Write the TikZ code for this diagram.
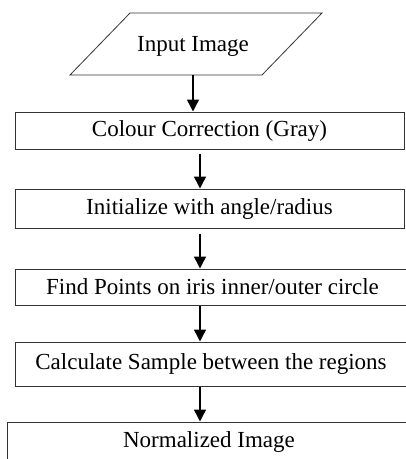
\documentclass[tikz,border=0pt]{standalone}
\usepackage{fontspec}
\setmainfont{Liberation Serif}
\usetikzlibrary{arrows.meta}
\begin{document}
\begin{tikzpicture}
[x=1pt,y=-1pt,
  boxDecorate/.style={shape=rectangle,draw=black!80,line width=1pt,inner sep=0pt},
  dataDecorate/.style={draw=black!80,line width=0.8pt,line join=miter},
  arrowDecorate/.style={-{Triangle[length=12pt,width=12pt]},line width=1.5pt},
  font=\fontsize{23}{27}\selectfont]
\clip (0,0) rectangle (406,459);
%% input
\node (in) at (193,46) {Input Image};
\draw[dataDecorate] (70,75) -- (130,13) -- (322,13) -- (262,75) -- cycle;
\coordinate (inBase) at (193,75);
%% process boxes
\foreach \nodename/\x/\y/\w/\h/\txt in {
  c1/209.5/130.5/389/37/{Colour Correction (Gray)},
  c2/209.5/208.5/389/39/{Initialize with angle/radius},
  c3/212.5/287/395/36/{Find Points on iris inner/outer circle},
  c4/211/364/392/44/{Calculate Sample between the regions},
  c5/209/442/404/40/{Normalized Image}}
{
  \node (\nodename) at (\x,\y) [boxDecorate,minimum width=\w pt,minimum height=\h pt] {\txt};
}
\coordinate (axis) at (200,0);
%% arrows
\draw[arrowDecorate] (inBase) -- (inBase |- c1.north);
\path
\foreach \startnode/\endnode/\gap in {c1/c2/4, c2/c3/5, c3/c4/0, c4/c5/0}
{
  (\startnode.south -| axis) edge[arrowDecorate,shorten <=\gap pt] (\endnode.north -| axis)
};
\end{tikzpicture}
\end{document}
